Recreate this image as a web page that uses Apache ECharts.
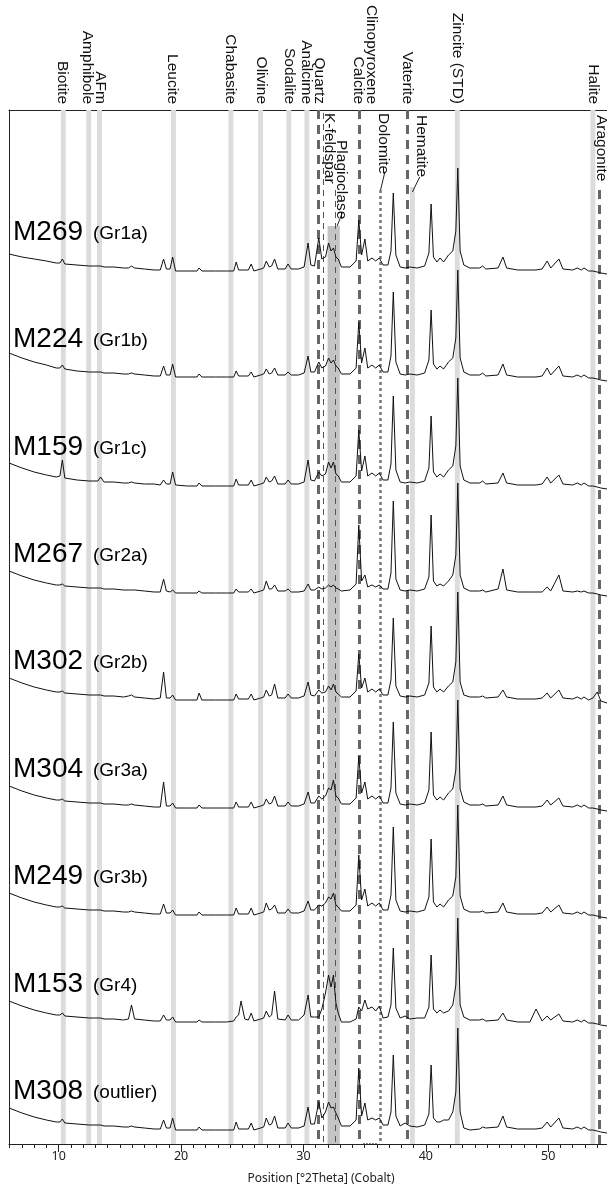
<!DOCTYPE html>
<html>
<head>
<meta charset="utf-8">
<script src="https://cdn.jsdelivr.net/npm/echarts@6/dist/echarts.min.js"></script>
<style>
html, body { margin: 0; padding: 0; background: #fff; }
#chart { width: 607px; height: 1190px; }
</style>
</head>
<body>
<div id="chart"></div>
<script>
// sample names and groups, top to bottom
const samples = ['M269', 'M224', 'M159', 'M267', 'M302', 'M304', 'M249', 'M153', 'M308']
const groups = ['(Gr1a)', '(Gr1b)', '(Gr1c)', '(Gr2a)', '(Gr2b)', '(Gr3a)', '(Gr3b)', '(Gr4)', '(outlier)']
// vertical offset of each pattern
const offsets = [873, 766, 658, 551, 444, 336, 229, 121, 14]

// axis ticks
const majorTicks = [10, 20, 30, 40, 50]
const minorTicks = [6, 7, 8, 9, 10, 11, 12, 13, 14, 15, 16, 17, 18, 19, 20, 21, 22, 23, 24, 25, 26, 27, 28, 29, 30,
    31, 32, 33, 34, 35, 36, 37, 38, 39, 40, 41, 42, 43, 44, 45, 46, 47, 48, 49, 50, 51, 52, 53, 54]

// shared °2Theta positions
const twoTheta = [5.94, 7, 8, 9, 9.8, 10.1, 10.3, 10.5, 11.5, 12.5, 13.2, 13.43, 13.7, 14.5, 15.3, 15.7, 15.95, 16.2, 17, 17.8,
    18.3, 18.57, 18.8, 19.1, 19.31, 19.55, 20.5, 21.3, 21.47, 21.7, 22.8, 23.3, 23.41, 23.7, 24.3, 24.5, 24.7, 24.9, 25.2, 25.5,
    25.73, 25.95, 26.5, 26.75, 26.96, 27.2, 27.4, 27.64, 27.9, 28.5, 28.74, 29.0, 29.6, 30.05, 30.38, 30.6, 30.9, 31.25, 31.5, 31.8,
    32.05, 32.25, 32.45, 32.65, 32.84, 33.1, 33.8, 34.3, 34.52, 34.75, 35.02, 35.25, 35.6, 35.9, 36.2, 36.5, 36.9, 37.15, 37.34, 37.55,
    37.9, 38.3, 38.7, 39.3, 39.9, 40.25, 40.43, 40.62, 40.9, 41.16, 41.45, 41.85, 42.2, 42.45, 42.61, 42.8, 43.1, 43.6, 44.4, 44.64,
    44.9, 45.9, 46.3, 46.6, 47.5, 48.5, 49.0, 49.5, 49.91, 50.2, 50.87, 51.2, 52.0, 52.37, 52.7, 52.92, 53.3, 53.65, 54.0, 54.3,
    54.8]

// intensities above each baseline
const m269 = [17, 14, 12, 10, 8, 8, 12, 7, 6, 5, 5, 5, 4, 4, 3, 3, 5, 3, 2, 1,
    1, 12, 2, 2, 14, 0, 0, 0, 3, 0, 0, 0, 2, 0, 0, 9, 1, 1, 1, 1,
    7, 0, 2, 3, 10, 4, 5, 12, 2, 2, 7, 2, 2, 4, 28, 6, 5, 33, 12, 14,
    28, 20, 23, 14, 12, 4, 4, 10, 51, 16, 32, 10, 13, 10, 13, 6, 6, 20, 78, 16,
    4, 3, 4, 3, 5, 18, 67, 14, 9, 13, 9, 16, 20, 40, 103, 20, 6, 3, 3, 5,
    2, 3, 14, 3, 1, 1, 1, 2, 10, 3, 12, 2, 1, 3, 1, 3, 0, 0, -1, -2,
    -3]
const m224 = [25, 20, 16, 13, 10, 10, 13, 9, 7, 6, 6, 6, 5, 5, 4, 4, 5, 4, 3, 2,
    2, 12, 3, 3, 14, 1, 1, 1, 4, 1, 1, 1, 3, 1, 1, 7, 2, 2, 2, 2,
    6, 1, 3, 4, 9, 4, 5, 10, 3, 3, 6, 3, 3, 5, 22, 6, 6, 16, 10, 12,
    20, 15, 18, 12, 10, 4, 4, 10, 56, 15, 30, 10, 13, 10, 13, 6, 6, 22, 86, 16,
    4, 3, 4, 3, 5, 18, 68, 14, 9, 12, 9, 16, 20, 40, 108, 20, 6, 3, 3, 5,
    2, 3, 14, 3, 1, 1, 1, 2, 10, 3, 12, 2, 1, 3, 1, 3, 0, 0, -1, -2,
    -3]
const m159 = [23, 18, 14, 11, 9, 10, 26, 8, 6, 5, 5, 9, 4, 4, 3, 3, 4, 3, 2, 2,
    1, 6, 2, 2, 14, 1, 0, 0, 3, 0, 0, 0, 2, 0, 0, 7, 1, 1, 1, 1,
    6, 0, 2, 3, 9, 4, 5, 10, 2, 2, 6, 2, 2, 4, 26, 6, 5, 14, 10, 12,
    24, 18, 24, 12, 10, 4, 4, 10, 56, 15, 30, 10, 13, 10, 13, 6, 6, 22, 90, 16,
    4, 3, 4, 3, 5, 18, 70, 14, 9, 12, 9, 16, 20, 40, 108, 20, 6, 3, 3, 5,
    2, 3, 13, 3, 1, 1, 1, 2, 9, 3, 11, 2, 1, 3, 1, 3, 0, 0, -1, -2,
    -3]
const m267 = [22, 17, 13, 10, 8, 8, 9, 7, 6, 5, 5, 5, 4, 4, 3, 3, 3, 3, 2, 1,
    1, 14, 2, 1, 3, 0, 0, 0, 2, 0, 0, 0, 1, 0, 0, 4, 1, 1, 1, 1,
    4, 0, 2, 3, 12, 4, 4, 8, 2, 2, 4, 1, 1, 2, 9, 3, 3, 6, 4, 5,
    8, 6, 8, 5, 4, 2, 3, 9, 68, 12, 18, 6, 8, 6, 8, 4, 4, 20, 92, 14,
    3, 2, 3, 2, 4, 16, 78, 12, 7, 9, 7, 12, 18, 38, 110, 18, 5, 2, 2, 3,
    1, 4, 24, 3, 1, 1, 1, 1, 6, 2, 18, 2, 1, 2, 1, 2, 0, 0, -1, -2,
    -3]
const m302 = [22, 17, 13, 10, 8, 8, 9, 7, 6, 5, 5, 5, 4, 4, 3, 4, 5, 3, 2, 1,
    2, 28, 2, 2, 5, 0, 0, 0, 7, 0, 0, 0, 2, 0, 0, 6, 1, 1, 1, 1,
    6, 0, 2, 3, 10, 4, 5, 16, 2, 2, 6, 2, 2, 4, 18, 5, 4, 10, 7, 8,
    14, 10, 16, 8, 6, 3, 3, 9, 46, 12, 22, 8, 11, 8, 11, 5, 5, 20, 82, 14,
    4, 3, 4, 3, 5, 17, 74, 13, 8, 11, 8, 14, 18, 38, 108, 18, 5, 3, 3, 4,
    2, 3, 10, 3, 1, 1, 1, 2, 7, 2, 10, 2, 1, 3, 1, 3, 0, 2, 8, -1,
    -3]
const m304 = [22, 17, 13, 10, 8, 8, 9, 7, 6, 5, 5, 5, 4, 4, 3, 3, 4, 3, 2, 1,
    1, 26, 2, 2, 5, 0, 0, 0, 3, 0, 0, 0, 2, 0, 0, 6, 1, 1, 1, 1,
    6, 0, 2, 3, 9, 4, 5, 12, 2, 2, 6, 2, 2, 4, 16, 5, 5, 12, 9, 12,
    20, 18, 28, 12, 10, 4, 4, 10, 52, 15, 26, 9, 12, 9, 12, 5, 5, 20, 86, 15,
    4, 3, 4, 3, 5, 18, 76, 13, 8, 11, 8, 15, 19, 38, 108, 19, 6, 3, 3, 4,
    2, 3, 12, 3, 1, 1, 1, 2, 8, 3, 10, 2, 1, 3, 1, 3, 0, 0, -1, -2,
    -3]
const m249 = [22, 17, 13, 10, 8, 8, 9, 7, 6, 5, 5, 5, 4, 4, 3, 3, 4, 3, 2, 1,
    1, 11, 2, 2, 5, 0, 0, 0, 3, 0, 0, 0, 2, 0, 0, 7, 1, 1, 1, 1,
    7, 0, 2, 3, 12, 5, 6, 10, 2, 2, 6, 2, 2, 4, 14, 5, 5, 10, 9, 12,
    18, 16, 22, 10, 8, 4, 4, 10, 60, 15, 26, 9, 12, 9, 12, 5, 5, 20, 88, 15,
    4, 3, 4, 3, 5, 18, 76, 13, 8, 11, 8, 15, 19, 38, 110, 19, 6, 3, 3, 4,
    2, 3, 12, 3, 1, 1, 1, 2, 8, 3, 10, 2, 1, 3, 1, 3, 0, 0, -1, -2,
    -3]
const m153 = [22, 17, 13, 10, 8, 8, 10, 7, 6, 5, 5, 5, 4, 4, 3, 4, 18, 4, 3, 2,
    2, 8, 3, 3, 6, 1, 1, 1, 3, 1, 1, 1, 3, 1, 2, 6, 8, 22, 4, 3,
    10, 2, 4, 5, 12, 6, 8, 32, 4, 3, 8, 3, 3, 8, 28, 6, 6, 6, 14, 30,
    48, 36, 48, 20, 10, 1, 1, 4, 16, 12, 23, 14, 16, 12, 17, 5, 6, 18, 75, 15,
    5, 7, 4, 5, 5, 16, 68, 14, 10, 13, 10, 12, 18, 38, 105, 18, 6, 3, 3, 4,
    2, 3, 10, 3, 1, 1, 14, 2, 7, 3, 9, 2, 1, 3, 1, 3, 0, 0, -1, -2,
    -3]
const m308 = [22, 17, 13, 10, 8, 8, 11, 7, 6, 5, 5, 5, 4, 4, 3, 3, 4, 3, 2, 1,
    1, 10, 2, 2, 12, 0, 0, 0, 3, 0, 0, 0, 2, 0, 0, 8, 1, 1, 1, 1,
    7, 0, 2, 3, 12, 5, 6, 14, 2, 2, 7, 2, 2, 4, 23, 6, 6, 28, 12, 18,
    28, 22, 23, 17, 12, 4, 4, 10, 62, 14, 27, 10, 12, 10, 12, 5, 5, 18, 75, 14,
    4, 7, 4, 3, 5, 16, 65, 12, 8, 8, 10, 10, 18, 38, 102, 18, 2, 0, 1, 3,
    2, 3, 14, 3, 1, 1, 1, 2, 8, 3, 12, 2, 1, 3, 1, 3, 0, 0, -1, -2,
    -3]
const patterns = [m269, m224, m159, m267, m302, m304, m249, m153, m308]

// reference phase positions (°2Theta)
const greyBands = [10.38, 12.45, 13.33, 19.38, 24.07, 26.5, 28.8, 30.28, 42.57, 53.65]
const hematiteBand = [38.7, 39.1]
const plagioclaseBand = [31.97, 32.97]
const heavyDashed = [31.2, 34.52, 38.46]
const aragonite = 54.2
const dolomite = 36.25
const kFeldspar = [31.62, 32.62]
const clinopyroxene = [34.88, 36.11]

// labels above the frame: [name, °2Theta]
const topLabels = [['Biotite', 10.32], ['Amphibole', 12.33], ['AFm', 13.43], ['Leucite', 19.25], ['Chabasite', 24.0], ['Olivine', 26.55], ['Sodalite', 28.84], ['Analcime', 30.24], ['Quartz', 31.3], ['Calcite', 34.5], ['Clinopyroxene', 35.56], ['Vaterite', 38.5], ['Zincite (STD)', 42.6], ['Halite', 53.68]]
// labels inside the frame: [name, °2Theta, top px]
const innerLabels = [['K-feldspar', 32.09, 113], ['Plagioclase', 33.08, 140], ['Dolomite', 36.5, 113], ['Hematite', 39.6, 115], ['Aragonite', 54.33, 115]]

const XMIN = 5.94, XMAX = 54.8
const TOP = 110, BOTTOM = 1144, YMAX = 1034
const chart = echarts.init(document.getElementById('chart'))

const yv = px => BOTTOM - px
const markAreas = greyBands.map(c => [{xAxis: c - 0.2}, {xAxis: c + 0.2}])
markAreas.push([{xAxis: hematiteBand[0], yAxis: yv(187)}, {xAxis: hematiteBand[1], yAxis: 0}])
const darkArea = [[{xAxis: plagioclaseBand[0], yAxis: yv(226)}, {xAxis: plagioclaseBand[1], yAxis: 0}]]

function vline(x, yTop, lineStyle) {
    return [{coord: [x, yv(yTop)], lineStyle}, {coord: [x, 0]}]
}
const heavy = {color: '#666', width: 3, type: [9, 6]}
const lines = []
heavyDashed.forEach(x => lines.push(vline(x, TOP, heavy)))
lines.push(vline(aragonite, 190, heavy))
lines.push(vline(dolomite, 190, {color: '#777', width: 2.5, type: [3, 3]}))
lines.push(vline(kFeldspar[0], 113, {color: '#555', width: 1, type: [6, 5]}))
lines.push(vline(kFeldspar[1], 190, {color: '#555', width: 1, type: [6, 5]}))
const dot = {color: '#555', width: 1, type: [1.5, 1.5]}
lines.push(vline(clinopyroxene[0], 107, dot))
lines.push(vline(clinopyroxene[1], 107, dot))
lines.push([{coord: [clinopyroxene[0], yv(107)], lineStyle: dot}, {coord: [clinopyroxene[1], yv(107)]}])
lines.push([{coord: [clinopyroxene[0], 1], lineStyle: dot}, {coord: [clinopyroxene[1], 1]}])
// leader lines
const lead = {color: '#222', width: 1, type: 'solid'}
lines.push([{coord: [36.65, yv(172)], lineStyle: lead}, {coord: [36.3, yv(190)]}])
lines.push([{coord: [39.5, yv(177)], lineStyle: lead}, {coord: [38.9, yv(192)]}])
lines.push([{coord: [33.2, yv(212)], lineStyle: lead}, {coord: [32.75, yv(226)]}])

const series = patterns.map((p, i) => ({
    name: samples[i],
    type: 'line',
    data: p.map((v, k) => [twoTheta[k], v + offsets[i]]),
    showSymbol: false,
    z: 5,
    lineStyle: {color: '#111', width: 1},
    animation: false
}))
series.push({
    type: 'line', data: [], z: 1, silent: true,
    markArea: {silent: true, itemStyle: {color: '#dcdcdc'}, data: markAreas},
    markLine: {silent: true, symbol: 'none', label: {show: false}, data: lines, animation: false}
})
series.push({
    type: 'line', data: [], z: 2, silent: true,
    markArea: {silent: true, itemStyle: {color: '#c4c4c4'}, data: darkArea}
})

chart.setOption({
    animation: false,
    grid: {left: 9, right: 0, top: TOP, bottom: 1190 - BOTTOM},
    xAxis: [{
        type: 'value', min: XMIN, max: XMAX,
        axisLine: {lineStyle: {color: '#222', width: 1}},
        axisTick: {show: true, length: 4, customValues: minorTicks, lineStyle: {color: '#222'}},
        axisLabel: {show: false}, splitLine: {show: false}
    }, {
        type: 'value', min: XMIN, max: XMAX, position: 'bottom',
        axisLine: {show: false},
        axisTick: {show: true, length: 8, customValues: majorTicks, lineStyle: {color: '#222'}},
        axisLabel: {customValues: majorTicks, color: '#222', fontSize: 12.5, fontFamily: 'Noto Sans', margin: 6},
        splitLine: {show: false}
    }, {
        type: 'value', min: XMIN, max: XMAX, position: 'top',
        axisLine: {lineStyle: {color: '#222', width: 1}},
        axisTick: {show: false}, axisLabel: {show: false}, splitLine: {show: false}
    }],
    yAxis: {
        type: 'value', min: 0, max: YMAX,
        axisLine: {show: true, lineStyle: {color: '#222'}},
        axisTick: {show: false}, axisLabel: {show: false}, splitLine: {show: false}
    },
    series: series
})

const graphics = []
const font = '"Liberation Sans", Arial, sans-serif'
topLabels.forEach(([t, x]) => {
    graphics.push({
        type: 'text', z: 100, x: chart.convertToPixel({xAxisIndex: 0}, x), y: 104, rotation: -Math.PI / 2,
        style: {text: t, fontSize: 15.5, fontFamily: font, fill: '#111', align: 'right', verticalAlign: 'middle'}
    })
})
innerLabels.forEach(([t, x, top]) => {
    graphics.push({
        type: 'text', z: 100, x: chart.convertToPixel({xAxisIndex: 0}, x), y: top, rotation: -Math.PI / 2,
        style: {text: t, fontSize: 15.5, fontFamily: font, fill: '#111', align: 'left', verticalAlign: 'middle'}
    })
})
samples.forEach((s, i) => {
    const y = BOTTOM - offsets[i] - 39
    graphics.push({
        type: 'text', z: 100, x: 13, y: y,
        style: {text: s, fontSize: 28, fontFamily: font, fill: '#000', verticalAlign: 'middle'}
    })
    graphics.push({
        type: 'text', z: 100, x: 93, y: y + 2,
        style: {text: groups[i], fontSize: 19, fontFamily: font, fill: '#000', verticalAlign: 'middle'}
    })
})
graphics.push({
    type: 'text', z: 100, x: 321, y: 1179,
    style: {text: 'Position [°2Theta] (Cobalt)', fontSize: 12, fontFamily: 'Noto Sans', fill: '#222', align: 'center', verticalAlign: 'middle'}
})
chart.setOption({graphic: graphics})
</script>
</body>
</html>
